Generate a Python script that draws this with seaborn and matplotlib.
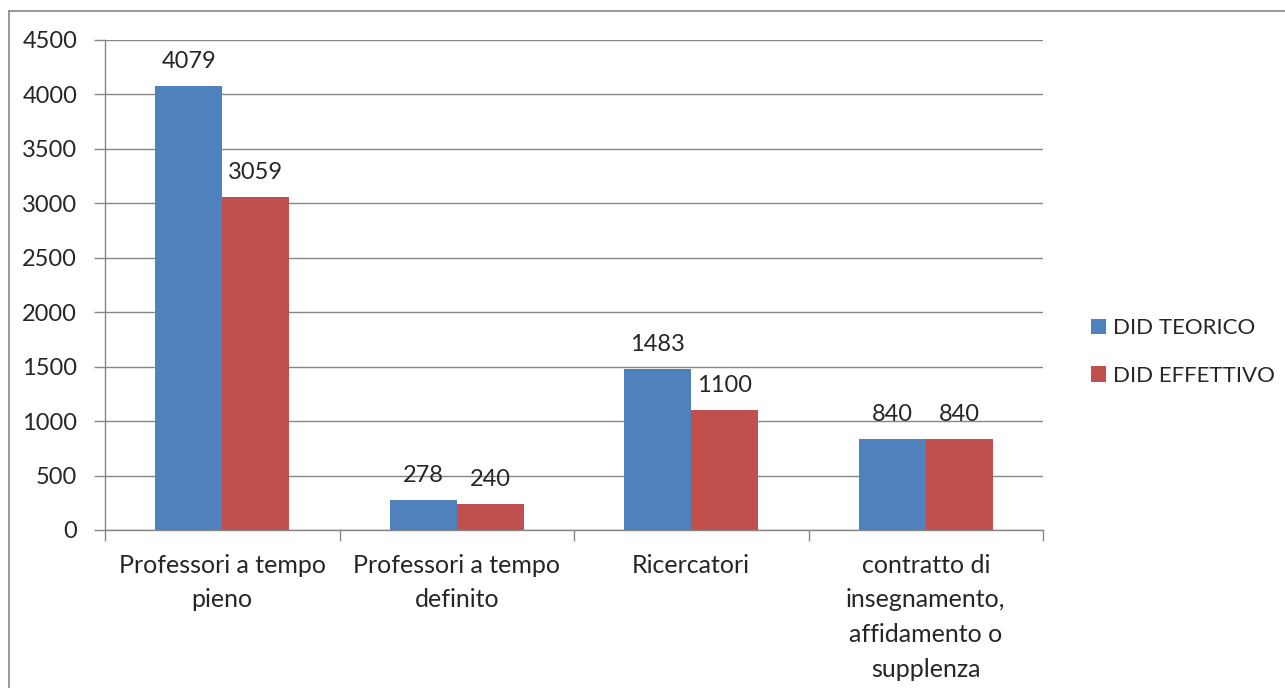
import matplotlib
matplotlib.use("Agg")
import matplotlib.pyplot as plt
import seaborn as sns
import pandas as pd
import numpy as np
from matplotlib.lines import Line2D
from matplotlib.ticker import FixedLocator

categories = ["Professori a tempo\npieno", "Professori a tempo\ndefinito", "Ricercatori",
              "contratto di\ninsegnamento,\naffidamento o\nsupplenza"]
series_names = ["DID TEORICO", "DID EFFETTIVO"]
did_teorico = [4079, 278, 1483, 840]
did_effettivo = [3059, 240, 1100, 840]
colors = ["#4F81BD", "#C0504D"]
yticks = [0, 500, 1000, 1500, 2000, 2500, 3000, 3500, 4000, 4500]

df = pd.DataFrame({
    "cat": categories * 2,
    "serie": [series_names[0]] * 4 + [series_names[1]] * 4,
    "val": did_teorico + did_effettivo,
})

sns.set_theme(style="white")
plt.rcParams['font.family'] = ['Lato', 'DejaVu Sans']

fig = plt.figure(figsize=(12.85, 6.88), dpi=100)
ax = fig.add_axes([105/1285, 1-530/688, (1043-105)/1285, (530-40)/688])

sns.barplot(data=df, x="cat", y="val", hue="serie", palette=colors, width=0.57,
            ax=ax, saturation=1, legend=True, linewidth=0, edgecolor="none")

ax.set_ylim(0, 4500)
ax.set_xlim(-0.5, 3.5)
ax.set_yticks(yticks)
ax.yaxis.grid(True, color="#868686", linewidth=1)
ax.set_axisbelow(True)
ax.set_xlabel("")
ax.set_ylabel("")
for s in ["top", "right"]:
    ax.spines[s].set_visible(False)
for s in ["left", "bottom"]:
    ax.spines[s].set_color("#868686")
    ax.spines[s].set_linewidth(1)
ax.tick_params(axis="y", which="major", length=8, color="#868686", width=1, labelsize=17,
               pad=12, left=True)
ax.tick_params(axis="x", which="major", length=0, labelsize=18, pad=17)
ax.xaxis.set_minor_locator(FixedLocator([-0.5, 0.5, 1.5, 2.5, 3.5]))
ax.tick_params(axis="x", which="minor", length=8, color="#868686", width=1, bottom=True)
for lab in ax.get_xticklabels():
    lab.set_linespacing(1.62)
    lab.set_verticalalignment("top")

for cont in ax.containers:
    ax.bar_label(cont, fmt="%d", padding=10, fontsize=17)

handles, labels = ax.get_legend_handles_labels()
ax.legend(handles, labels, loc="center left", bbox_to_anchor=(1075/1285, 1-352/688),
          bbox_transform=fig.transFigure, frameon=False, fontsize=16,
          handlelength=0.68, handleheight=0.68, handletextpad=0.35, labelspacing=1.25,
          borderpad=0.2)

fig.add_artist(Line2D([9/1285, 9/1285], [0, 1-11/688], color="#868686", linewidth=1.2, transform=fig.transFigure))
fig.add_artist(Line2D([9/1285, 1], [1-11/688, 1-11/688], color="#868686", linewidth=1.2, transform=fig.transFigure))

fig.savefig("out.png", dpi=100, facecolor="white")
